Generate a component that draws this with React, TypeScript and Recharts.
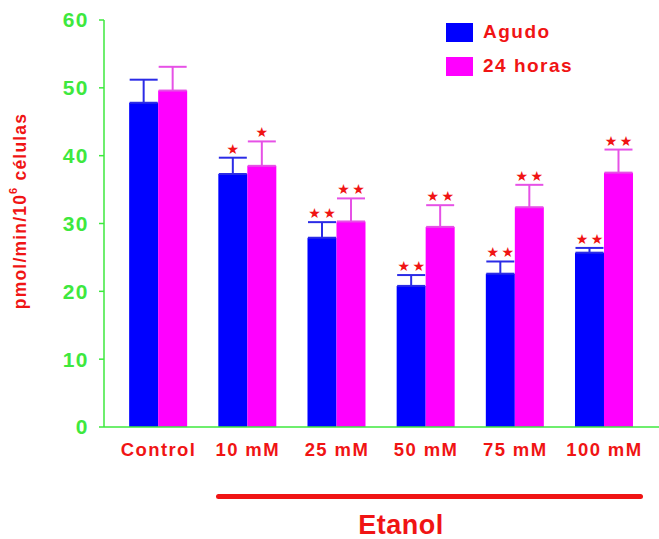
import React from 'react';
import { BarChart, Bar, XAxis, YAxis, ErrorBar, LabelList } from 'recharts';

const categories = ['Control', '10 mM', '25 mM', '50 mM', '75 mM', '100 mM'];
const agudo = [47.8, 37.3, 27.9, 20.8, 22.6, 25.7];
const agudoErr = [3.4, 2.4, 2.3, 1.6, 1.8, 0.7];
const horas24 = [49.6, 38.5, 30.3, 29.5, 32.4, 37.5];
const horas24Err = [3.5, 3.6, 3.4, 3.2, 3.3, 3.4];
const agudoStars = [0, 1, 2, 2, 2, 2];
const horas24Stars = [0, 1, 2, 2, 2, 2];
const yTicks = [0, 10, 20, 30, 40, 50, 60];

const data = categories.map((c, i) => ({
  name: c,
  agudo: agudo[i],
  agudoErr: [0, agudoErr[i]],
  agudoStars: agudoStars[i],
  horas: horas24[i],
  horasErr: [0, horas24Err[i]],
  horasStars: horas24Stars[i],
}));

const FONT = '"Liberation Sans", Arial, Helvetica, sans-serif';
const RED = '#f01414';
const GREEN = '#3ee83e';

const makeStars = (vals: number[], errs: number[]) => (props: any) => {
  const { x, y, width, height, index, value } = props;
  const count = typeof value === 'number' ? value : 0;
  if (!count || index === undefined) return null;
  const v = vals[index];
  const ppu = height / v;
  const errTop = y - errs[index] * ppu;
  const cy = errTop - 9;
  const cx = x + width / 2;
  const offs = count === 1 ? [0] : [-7.5, 7.5];
  return (
    <g>
      {offs.map((o, k) => (
        <text
          key={k}
          x={cx + o}
          y={cy}
          textAnchor="middle"
          dominantBaseline="central"
          fill={RED}
          fontSize={14}
          fontFamily="DejaVu Sans"
        >
          ★
        </text>
      ))}
    </g>
  );
};

const YLabel = () => (
  <text
    x={20}
    y={211}
    transform="rotate(-90 20 211)"
    textAnchor="middle"
    dominantBaseline="central"
    fill={RED}
    fontSize={17.5}
    fontWeight="bold"
    fontFamily={FONT}
    letterSpacing={1.2}
  >
    pmol/min/10
    <tspan fontSize={11} dy={-7}>6</tspan>
    <tspan dy={7}> células</tspan>
  </text>
);

export default function App() {
  return (
    <div style={{ position: 'absolute', left: 0, top: 0, width: 659, height: 539, background: '#fff', fontFamily: FONT }}>
      <BarChart
        width={659}
        height={539}
        data={data}
        margin={{ top: 20, right: 0, bottom: 82, left: 0 }}
        barCategoryGap="17%"
        barGap={0}
      >
        <XAxis
          dataKey="name"
          height={30}
          padding={{ left: 10, right: 10 }}
          axisLine={{ stroke: GREEN, strokeWidth: 1.5 }}
          tickLine={false}
          tickSize={6}
          tickMargin={10}
          interval={0}
          tick={{ fill: RED, fontSize: 18.5, fontWeight: 'bold', fontFamily: FONT, letterSpacing: 1.4 }}
        />
        <YAxis
          width={104}
          domain={[0, 60]}
          ticks={yTicks}
          interval={0}
          axisLine={{ stroke: GREEN, strokeWidth: 1.5 }}
          tickLine={{ stroke: GREEN, strokeWidth: 1.5 }}
          tickSize={5}
          tickMargin={10}
          tick={{ fill: GREEN, fontSize: 21, fontWeight: 'bold', fontFamily: FONT, letterSpacing: 1.5 }}
          label={{ content: <YLabel /> }}
        />
        <Bar dataKey="agudo" fill="#0000ff" isAnimationActive={false}>
          <ErrorBar dataKey="agudoErr" width={14} stroke="#2b2be6" strokeWidth={2} direction="y" />
          <LabelList dataKey="agudoStars" content={makeStars(agudo, agudoErr)} />
        </Bar>
        <Bar dataKey="horas" fill="#ff00ff" isAnimationActive={false}>
          <ErrorBar dataKey="horasErr" width={14} stroke="#e651e6" strokeWidth={2} direction="y" />
          <LabelList dataKey="horasStars" content={makeStars(horas24, horas24Err)} />
        </Bar>
      </BarChart>

      {/* Legend */}
      <div style={{ position: 'absolute', left: 446, top: 23, width: 27, height: 19, background: '#0000ff' }} />
      <div style={{ position: 'absolute', left: 446, top: 57, width: 27, height: 19, background: '#ff00ff' }} />
      <div style={{ position: 'absolute', left: 483, top: 20, color: RED, fontSize: 19, fontWeight: 'bold', letterSpacing: 1.5, lineHeight: '24px', whiteSpace: 'nowrap' }}>Agudo</div>
      <div style={{ position: 'absolute', left: 483, top: 54, color: RED, fontSize: 19, fontWeight: 'bold', letterSpacing: 1.5, lineHeight: '24px', whiteSpace: 'nowrap' }}>24 horas</div>

      {/* Etanol bracket */}
      <div style={{ position: 'absolute', left: 216, top: 494, width: 427, height: 5, background: RED, borderRadius: 3 }} />
      <div style={{ position: 'absolute', left: 301, width: 200, top: 509, textAlign: 'center', color: RED, fontSize: 27, fontWeight: 'bold', letterSpacing: 0.5, lineHeight: '32px' }}>Etanol</div>
    </div>
  );
}
